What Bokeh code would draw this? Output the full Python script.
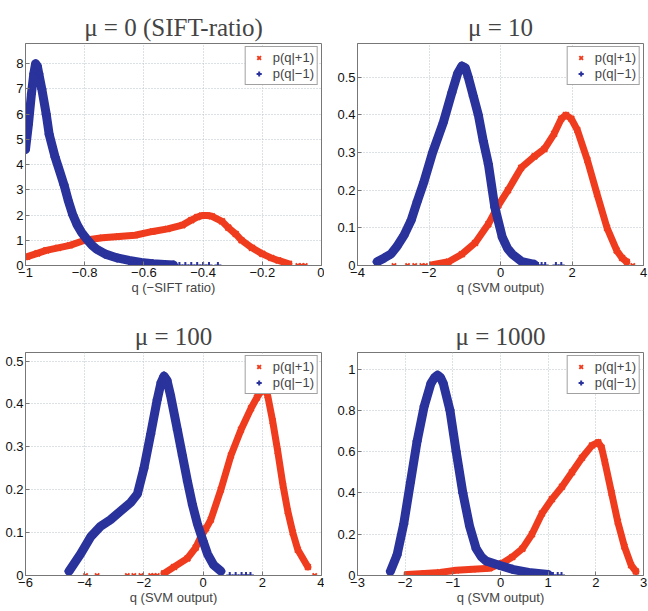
from bokeh.plotting import figure
from bokeh.layouts import gridplot
from bokeh.models import FixedTicker, Range1d, Legend, LegendItem
from bokeh.embed import file_html
from bokeh.resources import INLINE

# ---------------- data ----------------
titles = ["μ = 0 (SIFT-ratio)", "μ = 10", "μ = 100", "μ = 1000"]
xlabels = ["q (−SIFT ratio)", "q (SVM output)", "q (SVM output)", "q (SVM output)"]

# panel 1
p1_neg_x = [-1.0, -0.99, -0.98, -0.972, -0.966, -0.96, -0.955, -0.945, -0.93, -0.92, -0.90, -0.885,
            -0.87, -0.855, -0.84, -0.825, -0.81, -0.79, -0.775, -0.76, -0.73, -0.69, -0.65, -0.61,
            -0.57, -0.53, -0.50]
p1_neg_y = [4.6, 5.6, 6.8, 7.6, 8.0, 7.9, 7.6, 7.0, 6.0, 5.2, 4.3, 3.75,
            3.2, 2.55, 2.0, 1.6, 1.3, 1.0, 0.8, 0.65, 0.45, 0.3, 0.2, 0.12,
            0.07, 0.04, 0.02]
p1_neg_tail_x = [-0.55, -0.52, -0.50, -0.48, -0.46, -0.44, -0.42, -0.40, -0.38, -0.35]
p1_pos_x = [-0.994, -0.96, -0.93, -0.89, -0.85, -0.80, -0.74, -0.685, -0.63, -0.57, -0.52, -0.47,
            -0.44, -0.42, -0.404, -0.385, -0.37, -0.336, -0.315, -0.29, -0.27, -0.235, -0.20,
            -0.17, -0.146, -0.11]
p1_pos_y = [0.35, 0.48, 0.6, 0.7, 0.8, 1.0, 1.1, 1.15, 1.2, 1.35, 1.45, 1.6,
            1.8, 1.92, 1.98, 1.98, 1.95, 1.75, 1.5, 1.25, 1.0, 0.7, 0.46,
            0.3, 0.2, 0.07]
p1_pos_tail_x = [-0.08, -0.067, -0.055]

# panel 2 (mu = 10)
p2_neg_x = [-3.45, -3.25, -3.07, -2.9, -2.7, -2.5, -2.33, -2.15, -1.9, -1.6, -1.36, -1.2, -1.08,
            -0.98, -0.9, -0.76, -0.62, -0.48, -0.34, -0.16, 0.05, 0.2, 0.33, 0.6, 0.95]
p2_neg_y = [0.01, 0.02, 0.03, 0.05, 0.08, 0.12, 0.17, 0.22, 0.3, 0.38, 0.46, 0.51, 0.53,
            0.525, 0.5, 0.45, 0.4, 0.33, 0.27, 0.155, 0.075, 0.045, 0.03, 0.01, 0.003]
p2_neg_tail_x = [1.05, 1.15, 1.25, 1.55, 1.7]
p2_pos_x = [-1.9, -1.45, -1.08, -0.71, -0.34, -0.06, 0.21, 0.58, 0.95, 1.23, 1.5, 1.7, 1.83,
            1.98, 2.15, 2.43, 2.7, 2.98, 3.25, 3.4, 3.53]
p2_pos_y = [0.002, 0.01, 0.03, 0.06, 0.11, 0.16, 0.2, 0.26, 0.29, 0.31, 0.35, 0.39, 0.4,
            0.39, 0.36, 0.28, 0.19, 0.1, 0.04, 0.02, 0.01]
p2_pos_tail_x = [-2.98, -2.6, -2.4, -2.2, -2.1, 3.7]

# panel 3 (mu = 100)
p3_neg_x = [-4.53, -4.14, -3.8, -3.46, -3.13, -2.79, -2.45, -2.22, -2.0, -1.77, -1.55, -1.42,
            -1.32, -1.22, -1.1, -0.87, -0.7, -0.53, -0.36, -0.19, 0.0, 0.15, 0.35, 0.6]
p3_neg_y = [0.01, 0.05, 0.09, 0.115, 0.13, 0.15, 0.17, 0.19, 0.25, 0.33, 0.41, 0.45,
            0.465, 0.455, 0.42, 0.34, 0.28, 0.22, 0.165, 0.12, 0.08, 0.05, 0.025, 0.01]
p3_neg_tail_x = [0.9, 1.1, 1.3, 1.45, 1.6]
p3_pos_x = [-1.32, -0.98, -0.53, -0.25, -0.08, 0.1, 0.26, 0.6, 0.94, 1.28, 1.62, 1.82, 1.96,
            2.08, 2.18, 2.35, 2.52, 2.7, 2.86, 3.03, 3.2, 3.54]
p3_pos_y = [0.005, 0.02, 0.04, 0.065, 0.09, 0.11, 0.13, 0.2, 0.28, 0.34, 0.39, 0.415, 0.43,
            0.435, 0.42, 0.36, 0.29, 0.21, 0.15, 0.1, 0.06, 0.02]
p3_pos_tail_x = [-3.97, -3.58, -2.56, -2.34, -2.1, -1.77, -1.66, -1.55, 3.77]

# panel 4 (mu = 1000)
p4_neg_x = [-2.31, -2.17, -2.03, -1.89, -1.75, -1.6, -1.46, -1.38, -1.32, -1.26, -1.2, -1.06,
            -0.93, -0.79, -0.65, -0.51, -0.4, -0.3, -0.03, 0.25, 0.59, 1.0]
p4_neg_y = [0.02, 0.1, 0.25, 0.45, 0.65, 0.82, 0.93, 0.96, 0.97, 0.96, 0.93, 0.8,
            0.6, 0.4, 0.24, 0.13, 0.09, 0.07, 0.05, 0.03, 0.015, 0.005]
p4_neg_tail_x = [1.1, 1.2, 1.28]
p4_pos_x = [-1.96, -1.6, -1.27, -0.93, -0.58, -0.23, 0.04, 0.25, 0.46, 0.66, 0.87, 1.08,
            1.29, 1.5, 1.71, 1.92, 2.05, 2.12, 2.19, 2.33, 2.46, 2.6, 2.74, 2.84]
p4_pos_y = [0.005, 0.01, 0.015, 0.025, 0.03, 0.035, 0.06, 0.09, 0.13, 0.2, 0.3, 0.37,
            0.43, 0.5, 0.57, 0.63, 0.645, 0.62, 0.55, 0.4, 0.26, 0.14, 0.05, 0.02]
p4_pos_tail_x = []

x_ranges = [(-1, 0), (-4, 4), (-6, 4), (-3, 3)]
y_ranges = [(0, 8.8), (0, 0.59), (0, 0.52), (0, 1.08)]
x_ticks = [[-1, -0.8, -0.6, -0.4, -0.2, 0], [-4, -2, 0, 2, 4], [-6, -4, -2, 0, 2, 4], [-3, -2, -1, 0, 1, 2, 3]]
x_tick_labels = [["−1", "−0.8", "−0.6", "−0.4", "−0.2", "0"], ["−4", "−2", "0", "2", "4"],
                 ["−6", "−4", "−2", "0", "2", "4"], ["−3", "−2", "−1", "0", "1", "2", "3"]]
y_ticks = [[0, 1, 2, 3, 4, 5, 6, 7, 8], [0, 0.1, 0.2, 0.3, 0.4, 0.5], [0, 0.1, 0.2, 0.3, 0.4, 0.5],
           [0, 0.2, 0.4, 0.6, 0.8, 1]]
y_tick_labels = [["0", "1", "2", "3", "4", "5", "6", "7", "8"], ["0", "0.1", "0.2", "0.3", "0.4", "0.5"],
                 ["0", "0.1", "0.2", "0.3", "0.4", "0.5"], ["0", "0.2", "0.4", "0.6", "0.8", "1"]]

series = [
    (p1_pos_x, p1_pos_y, p1_pos_tail_x, p1_neg_x, p1_neg_y, p1_neg_tail_x),
    (p2_pos_x, p2_pos_y, p2_pos_tail_x, p2_neg_x, p2_neg_y, p2_neg_tail_x),
    (p3_pos_x, p3_pos_y, p3_pos_tail_x, p3_neg_x, p3_neg_y, p3_neg_tail_x),
    (p4_pos_x, p4_pos_y, p4_pos_tail_x, p4_neg_x, p4_neg_y, p4_neg_tail_x),
]

RED = "#f03c1e"
BLUE = "#2a339c"
FONT = "Liberation Sans"

# layout geometry
widths = [324, 324, 324, 324]
heights = [300, 300, 311, 311]
borders = [  # left, right, top, bottom
    (23, 3, 43, 35), (33, 5, 43, 35), (25, 3, 50, 36), (33, 5, 52, 36)
]

figs = []
for i in range(4):
    bl, br, bt, bb = borders[i]
    p = figure(width=widths[i], height=heights[i], output_backend="svg", toolbar_location=None,
               x_range=Range1d(*x_ranges[i]), y_range=Range1d(*y_ranges[i]),
               min_border_left=bl, min_border_right=br, min_border_top=bt, min_border_bottom=bb,
               title=titles[i])
    p.title.align = "center"
    p.title.text_font = "Liberation Serif"
    p.title.text_font_size = "25px"
    p.title.text_font_style = "normal"
    p.title.standoff = 5
    p.background_fill_color = "white"
    p.border_fill_color = "white"
    p.outline_line_color = "#777777"
    p.outline_line_width = 1

    for ax in (p.xaxis[0], p.yaxis[0]):
        ax.major_label_text_font = FONT
        ax.major_label_text_font_size = "13px"
        ax.major_label_text_color = "#111111"
        ax.major_tick_in = 4
        ax.major_tick_out = 0
        ax.minor_tick_in = 0
        ax.minor_tick_out = 0
        ax.axis_line_color = "#777777"
        ax.major_tick_line_color = "#777777"
        ax.major_label_standoff = 2
    p.xaxis[0].ticker = FixedTicker(ticks=x_ticks[i])
    p.yaxis[0].ticker = FixedTicker(ticks=y_ticks[i])
    p.xaxis[0].major_label_overrides = {t: l for t, l in zip(x_ticks[i], x_tick_labels[i])}
    p.yaxis[0].major_label_overrides = {t: l for t, l in zip(y_ticks[i], y_tick_labels[i])}
    p.xaxis[0].axis_label = xlabels[i]
    p.xaxis[0].axis_label_text_font = FONT
    p.xaxis[0].axis_label_text_font_size = "13px"
    p.xaxis[0].axis_label_text_font_style = "normal"
    p.xaxis[0].axis_label_standoff = 0

    p.grid.grid_line_color = "#b8c2cc"
    p.grid.grid_line_dash = "1 2"
    p.grid.grid_line_width = 1

    px, py, ptail, nx, ny, ntail = series[i]
    # red: p(q|+1)
    p.line(px, py, line_color=RED, line_width=7, line_join="round", line_cap="round")
    r_red = p.scatter(px, py, marker="x", size=8, line_color=RED, line_width=2)
    if ptail:
        p.scatter(ptail, [0] * len(ptail), marker="x", size=6, line_color=RED, line_width=2)
    # blue: p(q|-1)
    p.line(nx, ny, line_color=BLUE, line_width=9, line_join="round", line_cap="round")
    r_blue = p.scatter(nx, ny, marker="cross", size=9, line_color=BLUE, line_width=2)
    if ntail:
        p.scatter(ntail, [0] * len(ntail), marker="cross", size=7, line_color=BLUE, line_width=2)

    leg = Legend(items=[LegendItem(label="p(q|+1)", renderers=[r_red]),
                        LegendItem(label="p(q|−1)", renderers=[r_blue])],
                 location="top_right")
    leg.label_text_font = FONT
    leg.label_text_font_size = "13px"
    leg.label_height = 13
    leg.glyph_height = 13
    leg.glyph_width = 20
    leg.spacing = 1
    leg.padding = 3
    leg.margin = 3
    leg.label_standoff = 4
    leg.border_line_color = "#444444"
    leg.border_line_width = 1
    leg.background_fill_alpha = 1
    p.add_layout(leg)
    figs.append(p)

grid = gridplot([[figs[0], figs[1]], [figs[2], figs[3]]], toolbar_location=None)
open("out.html", "w").write(file_html(grid, INLINE))
